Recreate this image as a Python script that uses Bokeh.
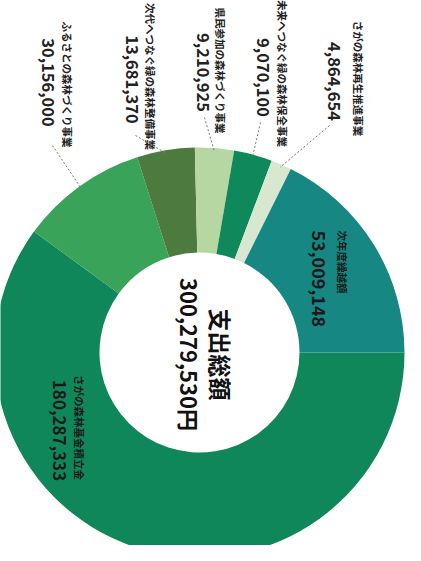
import numpy as np
from bokeh.plotting import figure
from bokeh.models import Range1d
from bokeh.core.properties import value
from bokeh.embed import file_html
from bokeh.resources import INLINE

# ---- data ----
categories = ["さがの森林基金積立金", "ふるさとの森林づくり事業", "次代へつなぐ緑の森林整備事業",
              "県民参加の森林づくり事業", "未来へつなぐ緑の森林保全事業", "さがの森林再生推進事業",
              "次年度繰越額"]
amounts = [180287333, 30156000, 13681370, 9210925, 9070100, 4864654, 53009148]
total_title = "支出総額"
total_text = "300,279,530円"
colors = ["#10875a", "#3aa35a", "#4d7a3e", "#b6d7a2", "#0f885c", "#d8e7cf", "#168783"]

FONT = value("Noto Sans CJK JP")

# ---- layout ----
W, H = 405, 545
cx, cy = 207, -360
r_in, r_out = 100, 205

p = figure(width=W, height=H, output_backend="svg", toolbar_location=None,
           x_range=Range1d(8, 8 + W), y_range=Range1d(-8 - H, -8),
           min_border=0, outline_line_color=None)
p.axis.visible = False
p.grid.visible = False
p.background_fill_color = "white"

amt = np.array(amounts, dtype=float)
frac = amt / amt.sum()
cum = np.cumsum(frac)
start_cw = cum - frac
end_cw = cum
p.annular_wedge(x=cx, y=cy, inner_radius=r_in, outer_radius=r_out,
                start_angle=list(-end_cw * 2 * np.pi), end_angle=list(-start_cw * 2 * np.pi),
                direction="anticlock", fill_color=colors, line_color=None)

fmt = lambda v: f"{v:,}"
ang = -np.pi / 2

# outer labels (indices 1..5)
name_x = [75, 158, 228, 290, 366]
name_y = [92, 84, 78, 81, 86]
val_x = [56, 140, 211, 271, 342]
val_y = [90, 87, 80, 85, 89]
lead_start = [(60, 153), (143, 143), (212, 125), (268, 130), (337, 133)]
for k, i in enumerate(range(1, 6)):
    p.text(x=[name_x[k]], y=[-name_y[k]], text=[categories[i]], angle=ang,
           text_font=FONT, text_font_style="bold", text_font_size="10.5px",
           text_align="center", text_baseline="middle", text_color="#222222")
    p.text(x=[val_x[k]], y=[-val_y[k]], text=[fmt(amounts[i])], angle=ang,
           text_font=FONT, text_font_style="bold", text_font_size="16.5px",
           text_align="center", text_baseline="middle", text_color="#222222")
    mid = (start_cw[i] + end_cw[i]) / 2
    a = -mid * 2 * np.pi
    ex, ey = cx + (r_out - 3) * np.cos(a), cy + (r_out - 3) * np.sin(a)
    sx, sy = lead_start[k]
    p.line(x=[sx, ex], y=[-sy, ey], line_color="#777777", line_width=1, line_dash="2 2")

# inside labels: big segment and carry-over
p.text(x=[87], y=[-435], text=[categories[0]], angle=ang, text_font=FONT, text_font_style="bold",
       text_font_size="10.5px", text_align="center", text_baseline="middle", text_color="#1a1a1a")
p.text(x=[67], y=[-438], text=[fmt(amounts[0])], angle=ang, text_font=FONT, text_font_style="bold",
       text_font_size="17px", text_align="center", text_baseline="middle", text_color="#1a1a1a")
p.text(x=[350], y=[-238], text=[categories[6]], angle=ang, text_font=FONT, text_font_style="bold",
       text_font_size="10.5px", text_align="left", text_baseline="middle", text_color="#1a1a1a")
p.text(x=[326], y=[-238], text=[fmt(amounts[6])], angle=ang, text_font=FONT, text_font_style="bold",
       text_font_size="18px", text_align="left", text_baseline="middle", text_color="#1a1a1a")

# center
p.text(x=[228], y=[-362], text=[total_title], angle=ang, text_font=FONT, text_font_style="bold",
       text_font_size="23px", text_align="center", text_baseline="middle", text_color="#111111")
p.text(x=[197], y=[-362], text=[total_text], angle=ang, text_font=FONT, text_font_style="bold",
       text_font_size="22px", text_align="center", text_baseline="middle", text_color="#111111")

open("out.html", "w").write(file_html(p, INLINE))
